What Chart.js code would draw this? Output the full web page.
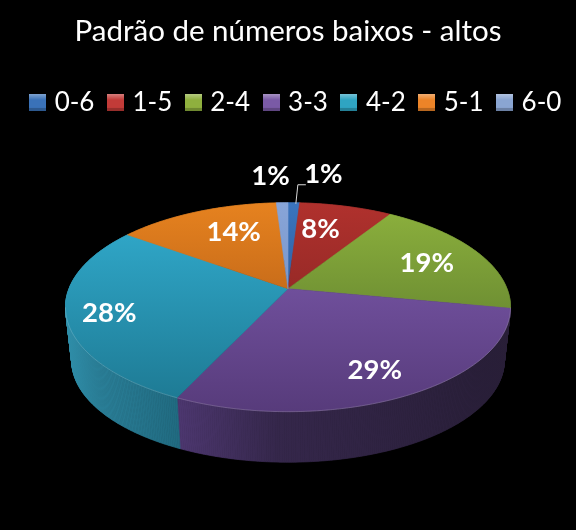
<!DOCTYPE html>
<html>
<head>
<meta charset="utf-8">
<style>
html, body { margin: 0; padding: 0; background: #000; }
canvas { display: block; }
</style>
<script src="https://cdn.jsdelivr.net/npm/chart.js@4"></script>
</head>
<body>
<canvas id="pie3d" width="576" height="530"></canvas>
<script>
const titleText = 'Padrão de números baixos - altos';
const categories = ['0-6', '1-5', '2-4', '3-3', '4-2', '5-1', '6-0'];
const shares = [1, 8, 19, 29, 28, 14, 1];

const lightColors = ['#3b74bd', '#b0312d', '#8aae3c', '#6f4f9b', '#2fa5c6', '#e6821f', '#88a5d8'];
const darkColors = ['#2f62a5', '#982a27', '#6f9033', '#573b7b', '#1e7b95', '#c96d1a', '#7a97cb'];
const legendColors = ['#3a72b8', '#c23b38', '#8fb03e', '#7a5aa6', '#2fa4c2', '#ec8428', '#8aa5d2'];
// left, middle, right colour of each slice's side wall
const wallColors = [
    ['#24466f', '#24466f', '#24466f'],
    ['#6b1f1d', '#6b1f1d', '#6b1f1d'],
    ['#56702a', '#4c6325', '#435820'],
    ['#4d3770', '#35274b', '#281e37'],
    ['#2f8ea9', '#2a7f98', '#206a80'],
    ['#8f5214', '#8f5214', '#8f5214'],
    ['#5a7196', '#5a7196', '#5a7196']
];

// nudges for the percent labels, Excel had them hand placed
const labelShift = [[31, -50], [-11, 2], [1, 2], [6, 8], [-21, 6], [14, 1], [-13, -48]];

// perspective of the tilted disc
const spanX = 219;
const spanY = 101.2;
const tilt = 0.177;
const wallDrop = 54;
const wallShrink = 0.972;

function project(cx, cy, theta, rho, bottom) {
    const u = Math.sin(theta) * rho;
    const v = -Math.cos(theta) * rho;
    const w = 1 - tilt * v;
    const k = bottom ? wallShrink : 1;
    return {
        x: cx + spanX * k * u / w,
        y: cy + (bottom ? wallDrop : 0) + spanY * k * v / w
    };
}

function rimPoints(arc, bottom) {
    const a0 = arc.startAngle + Math.PI / 2;
    const a1 = arc.endAngle + Math.PI / 2;
    const pts = [];
    for (let t = a0; t < a1; t += Math.PI / 360) {
        pts.push(project(arc.x, arc.y, t, 1, bottom));
    }
    pts.push(project(arc.x, arc.y, a1, 1, bottom));
    return pts;
}

function tracePath(ctx, pts) {
    ctx.beginPath();
    pts.forEach((p, j) => j ? ctx.lineTo(p.x, p.y) : ctx.moveTo(p.x, p.y));
}

function swatch(color) {
    const c = document.createElement('canvas');
    c.width = 17;
    c.height = 17;
    const g = c.getContext('2d');
    g.fillStyle = color;
    g.fillRect(0, 0, 17, 17);
    const top = g.createLinearGradient(0, 0, 0, 6);
    top.addColorStop(0, 'rgba(255,255,255,0.35)');
    top.addColorStop(1, 'rgba(255,255,255,0)');
    g.fillStyle = top;
    g.fillRect(0, 0, 17, 6);
    g.fillStyle = 'rgba(0,0,0,0.22)';
    g.fillRect(0, 14, 17, 3);
    return c;
}

const disc3d = {
    id: 'disc3d',
    afterLayout(chart) {
        // the original legend sits a bit right of the middle
        chart.legend.left += 9.5;
        chart.legend.right += 9.5;
    },
    beforeDatasetDraw(chart, args) {
        const ctx = chart.ctx;
        const arcs = chart.getDatasetMeta(args.index).data;
        ctx.save();

        // side wall as small quads so the left edge stays a clean tangent,
        // the top face covers the back part
        arcs.forEach((arc, i) => {
            const top = rimPoints(arc, false);
            const low = rimPoints(arc, true);
            const xs = top.concat(low).map(p => p.x);
            const grad = ctx.createLinearGradient(Math.min(...xs), 0, Math.max(...xs), 0);
            grad.addColorStop(0, wallColors[i][0]);
            grad.addColorStop(0.3, wallColors[i][1]);
            grad.addColorStop(1, wallColors[i][2]);
            ctx.fillStyle = grad;
            ctx.strokeStyle = grad;
            ctx.lineWidth = 0.7;
            for (let j = 0; j < top.length - 1; j++) {
                tracePath(ctx, [top[j], top[j + 1], low[j + 1], low[j]]);
                ctx.closePath();
                ctx.fill();
                ctx.stroke();
            }
        });

        // top face
        arcs.forEach((arc, i) => {
            const rim = rimPoints(arc, false);
            const pts = [{ x: arc.x, y: arc.y }].concat(rim);
            const ys = pts.map(p => p.y);
            const grad = ctx.createLinearGradient(0, Math.min(...ys), 0, Math.max(...ys));
            grad.addColorStop(0, arc.options.backgroundColor);
            grad.addColorStop(1, darkColors[i]);
            ctx.fillStyle = grad;
            ctx.strokeStyle = grad;
            ctx.lineWidth = 0.6;
            tracePath(ctx, pts);
            ctx.closePath();
            ctx.fill();
            ctx.stroke();

            // thin light rim on the front edge only
            const front = rim.filter(p => p.y > arc.y + 18);
            if (front.length > 1) {
                ctx.strokeStyle = 'rgba(255,255,255,0.18)';
                ctx.lineWidth = 1;
                tracePath(ctx, front);
                ctx.stroke();
            }
        });
        ctx.restore();
        return false;
    },
    afterDatasetsDraw(chart) {
        const ctx = chart.ctx;
        const arcs = chart.getDatasetMeta(0).data;
        ctx.save();

        // leader line of the first slice
        const first = arcs[0];
        const mid0 = (first.startAngle + first.endAngle) / 2 + Math.PI / 2;
        const edge = project(first.x, first.y, mid0, 1, false);
        ctx.strokeStyle = '#d9d9d9';
        ctx.lineWidth = 1;
        ctx.beginPath();
        ctx.moveTo(edge.x + 2, edge.y + 1);
        ctx.lineTo(edge.x + 4, edge.y - 18);
        ctx.lineTo(edge.x + 12, edge.y - 18);
        ctx.stroke();

        ctx.fillStyle = '#fff';
        ctx.font = 'bold 27.5px Lato';
        ctx.textAlign = 'center';
        ctx.textBaseline = 'middle';
        arcs.forEach((arc, i) => {
            const mid = (arc.startAngle + arc.endAngle) / 2 + Math.PI / 2;
            const p = project(arc.x, arc.y, mid, 0.72, false);
            ctx.fillText(shares[i] + '%', p.x + labelShift[i][0], p.y + labelShift[i][1]);
        });
        ctx.restore();
    }
};

new Chart(document.getElementById('pie3d'), {
    type: 'pie',
    data: {
        labels: categories,
        datasets: [{
            data: shares,
            backgroundColor: lightColors,
            borderWidth: 0
        }]
    },
    options: {
        responsive: false,
        animation: false,
        layout: { padding: { top: 14, left: 0, right: 0, bottom: 78 } },
        plugins: {
            title: {
                display: true,
                text: titleText,
                color: '#fff',
                font: { family: 'Lato', size: 29.5, weight: 'normal' },
                padding: { top: 0, bottom: 23 }
            },
            legend: {
                position: 'top',
                labels: {
                    color: '#fff',
                    font: { family: 'Lato', size: 26 },
                    usePointStyle: true,
                    boxWidth: 8,
                    boxHeight: 17,
                    padding: 17,
                    generateLabels: () => categories.map((name, i) => ({
                        text: name,
                        fillStyle: legendColors[i],
                        strokeStyle: legendColors[i],
                        fontColor: '#fff',
                        lineWidth: 0,
                        pointStyle: swatch(legendColors[i]),
                        hidden: false,
                        index: i
                    }))
                }
            },
            tooltip: { enabled: false }
        }
    },
    plugins: [disc3d]
});
</script>
</body>
</html>
